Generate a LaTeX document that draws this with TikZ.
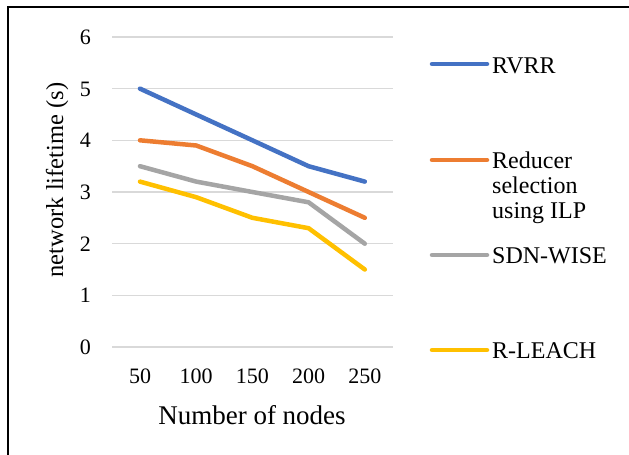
\documentclass[tikz,border=0pt]{standalone}
\usepackage{fontspec}
\setmainfont{Liberation Serif}
\definecolor{cBlue}{HTML}{4472C4}
\definecolor{cOrange}{HTML}{ED7D31}
\definecolor{cGray}{HTML}{A5A5A5}
\definecolor{cGold}{HTML}{FFC000}
\definecolor{gridgray}{HTML}{D9D9D9}
\begin{document}
\begin{tikzpicture}[x=1pt,y=-1pt,
  gridline/.style={draw=gridgray, line width=1.2pt},
  series/.style={line width=4.5pt, line cap=round, line join=round},
  ticklab/.style={font=\fontsize{22}{26}\selectfont, inner sep=0pt},
  axtitle/.style={font=\fontsize{27}{30}\selectfont, inner sep=0pt},
  legtext/.style={font=\fontsize{24}{25}\selectfont, inner sep=0pt, anchor=base west, align=left}]
\useasboundingbox (0,0) rectangle (629,455);
\fill[white] (0,0) rectangle (629,455);
\draw[line width=2pt] (8,456) -- (8,7) -- (630,7);
\foreach \v in {0,...,6} {
  \draw[gridline] (112,{347-51.67*\v}) -- (393,{347-51.67*\v});
  \node[ticklab, anchor=base east] (y\v) at (91,{347-51.67*\v+7.5}) {\v};
}
\foreach \lab [count=\i from 0] in {50,100,150,200,250}
  \node[ticklab, anchor=base] (x\i) at ({140+56.2*\i},383) {\lab};
\node[axtitle, anchor=base] (xtitle) at (252,424) {Number of nodes};
\node[axtitle, font=\fontsize{24.5}{30}\selectfont, rotate=90] (ytitle) at (57,180) {network lifetime (s)};
% series
\draw[series, cBlue] plot coordinates {(140,88.65) (196.2,114.5) (252.4,140.3) (308.6,166.2) (364.8,181.6)};
\draw[series, cOrange] plot coordinates {(140,140.3) (196.2,145.5) (252.4,166.2) (308.6,192.0) (364.8,217.8)};
\draw[series, cGray] plot coordinates {(140,166.2) (196.2,181.6) (252.4,192.0) (308.6,202.3) (364.8,243.7)};
\draw[series, cGold] plot coordinates {(140,181.6) (196.2,197.2) (252.4,217.8) (308.6,228.2) (364.8,269.5)};
% legend
\coordinate (l1a) at (432,64); \coordinate (l1b) at (487,64);
\draw[series, cBlue] (l1a) -- (l1b);
\node[legtext] (t1) at (492,73) {RVRR};
\coordinate (l2a) at (432,160); \coordinate (l2b) at (487,160);
\draw[series, cOrange] (l2a) -- (l2b);
\node[legtext] (t2) at (492,218) {Reducer\\selection\\using ILP};
\coordinate (l3a) at (432,255); \coordinate (l3b) at (487,255);
\draw[series, cGray] (l3a) -- (l3b);
\node[legtext] (t3) at (492,263) {SDN-WISE};
\coordinate (l4a) at (432,350); \coordinate (l4b) at (487,350);
\draw[series, cGold] (l4a) -- (l4b);
\node[legtext] (t4) at (492,358) {R-LEACH};
\end{tikzpicture}
\end{document}
